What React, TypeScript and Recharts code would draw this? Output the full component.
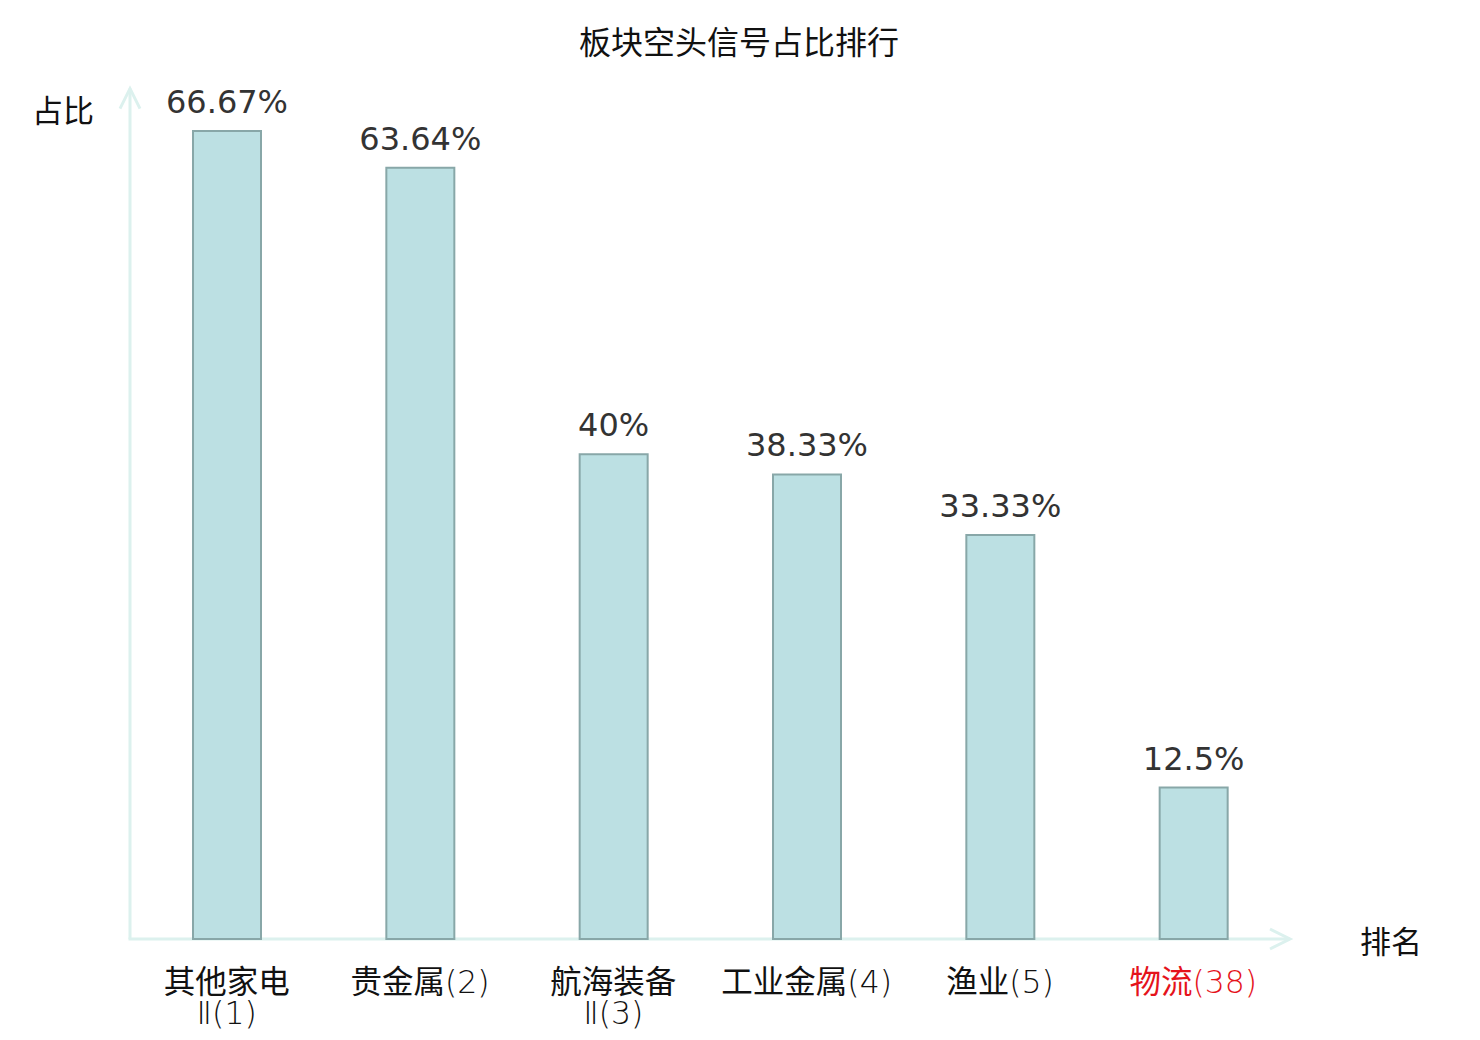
import React from 'react';
import * as R from 'recharts';
import { BarChart, Bar, XAxis, YAxis, LabelList } from 'recharts';

const categories = ['其他家电Ⅱ', '贵金属', '航海装备Ⅱ', '工业金属', '渔业', '物流'];
const ranks = [1, 2, 3, 4, 5, 38];
const shares = [66.67, 63.64, 40, 38.33, 33.33, 12.5];
const valueLabels = ['66.67%', '63.64%', '40%', '38.33%', '33.33%', '12.5%'];
const highlightRank = 38;
const yDomain: [number, number] = [0, 70];

const title = '板块空头信号占比排行';
const yName = '占比';
const xName = '排名';

const data = categories.map((c, i) => ({
  name: c,
  rank: ranks[i],
  value: shares[i],
  label: valueLabels[i],
}));

const CJK = '"Noto Sans CJK SC", "Noto Sans", sans-serif';
const LATIN_LIGHT = '"DejaVu Sans", sans-serif';
const AXIS_COLOR = '#dcf1ee';

function splitLabel(name: string, rank: number): string[] {
  const full = `${name}(${rank})`;
  if (name.length > 4) {
    return [name.slice(0, 4), full.slice(4)];
  }
  return [full];
}

function isCJK(ch: string) {
  return /[\u4e00-\u9fff]/.test(ch);
}

function renderLine(l: string) {
  const runs: { t: string; cjk: boolean }[] = [];
  for (const ch of l) {
    const c = isCJK(ch);
    if (runs.length && runs[runs.length - 1].cjk === c) runs[runs.length - 1].t += ch;
    else runs.push({ t: ch, cjk: c });
  }
  return runs.map((r, k) =>
    r.cjk ? (
      <tspan key={k} fontFamily={CJK} fontWeight={400}>
        {r.t}
      </tspan>
    ) : (
      <tspan key={k} fontFamily={LATIN_LIGHT} fontWeight={200}>
        {r.t}
      </tspan>
    )
  );
}

function Tick(props: any) {
  const { x, y, payload, index } = props;
  const i = index ?? categories.indexOf(payload.value);
  const rank = ranks[i];
  const lines = splitLabel(payload.value, rank);
  const color = rank === highlightRank ? '#e5131b' : '#111';
  return (
    <g>
      {lines.map((l, k) => (
        <text
          key={k}
          x={x}
          y={y + 54 + k * 31}
          textAnchor="middle"
          fontFamily={CJK}
          fontSize={31.5}
          fill={color}
        >
          {renderLine(l)}
        </text>
      ))}
    </g>
  );
}

function ValueLabel(props: any) {
  const { x, y, width, index } = props;
  return (
    <text
      x={x + width / 2}
      y={y - 18}
      textAnchor="middle"
      fontFamily='"DejaVu Sans", sans-serif'
      fontSize={32}
      fill="#333"
    >
      {valueLabels[index]}
    </text>
  );
}

function Decorations() {
  const hook = (R as any).usePlotArea;
  const pa = hook ? hook() : null;
  if (!pa) return null;
  const { x, y, width, height } = pa;
  const bottom = y + height;
  const right = x + width;
  return (
    <g>
      <line x1={x} y1={bottom} x2={x} y2={y - 2} stroke={AXIS_COLOR} strokeWidth={3} />
      <polyline
        points={`${x - 10},${y + 18} ${x},${y - 2} ${x + 10},${y + 18}`}
        fill="none"
        stroke={AXIS_COLOR}
        strokeWidth={3}
      />
      <line x1={x - 1.5} y1={bottom} x2={right} y2={bottom} stroke={AXIS_COLOR} strokeWidth={3} />
      <polyline
        points={`${right - 20},${bottom - 10} ${right},${bottom} ${right - 20},${bottom + 10}`}
        fill="none"
        stroke={AXIS_COLOR}
        strokeWidth={3}
      />
      <text x={x - 67} y={y + 31} textAnchor="middle" fontFamily={CJK} fontSize={31} fill="#111">
        {yName}
      </text>
      <text x={right + 101} y={bottom + 14} textAnchor="middle" fontFamily={CJK} fontSize={31} fill="#111">
        {xName}
      </text>
      <text x={739} y={54} textAnchor="middle" fontFamily={CJK} fontSize={32} fill="#111">
        {title}
      </text>
    </g>
  );
}

export default function App() {
  return (
    <div style={{ position: 'absolute', left: 0, top: 0, width: 1480, height: 1040, background: '#fff' }}>
      <BarChart
        width={1480}
        height={1040}
        data={data}
        margin={{ top: 90.6, right: 190, bottom: 0, left: 130 }}
        barCategoryGap={0}
      >
        <XAxis
          dataKey="name"
          axisLine={false}
          tickLine={false}
          tickSize={0}
          tickMargin={0}
          height={101}
          interval={0}
          tick={<Tick />}
        />
        <YAxis hide domain={yDomain} />
        <Bar
          dataKey="value"
          barSize={68}
          fill="#bce0e3"
          stroke="#88a7a8"
          strokeWidth={2}
          isAnimationActive={false}
        >
          <LabelList dataKey="value" content={<ValueLabel />} />
        </Bar>
        <Decorations />
      </BarChart>
    </div>
  );
}
